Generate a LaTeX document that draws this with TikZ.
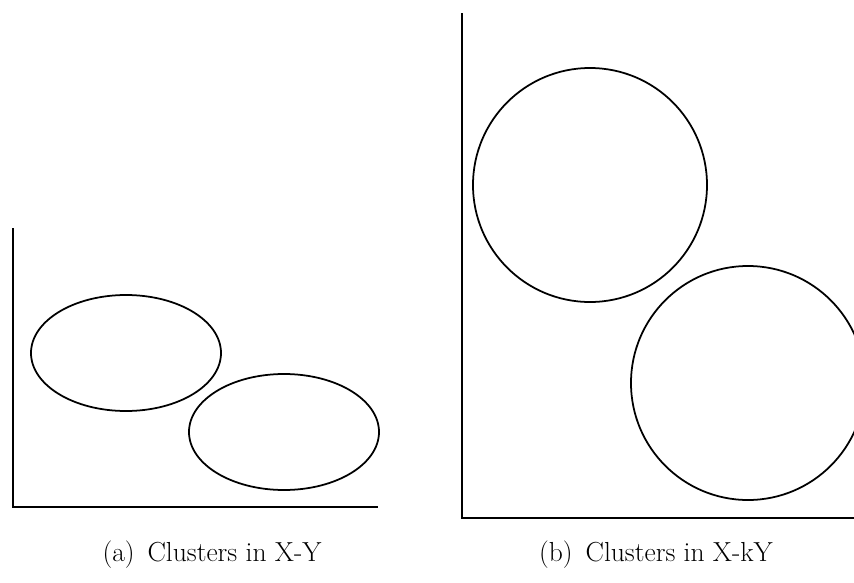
\documentclass[tikz,border=0pt]{standalone}
\usepackage{tikz}
\usetikzlibrary{positioning, shapes.geometric}

\begin{document}
\begin{tikzpicture}[
  x=0.03cm, y=-0.03cm,
  axis/.style={line width=1.7pt, black},
  blob/.style={ellipse, draw=black, line width=1.5pt, inner sep=0pt,
               minimum width=5.7cm, minimum height=3.48cm},
  ring/.style={circle, draw=black, line width=1.5pt, inner sep=0pt,
               minimum size=7.02cm},
  caption/.style={font=\fontsize{23.5}{28}\selectfont}
]
  \useasboundingbox (0,0) rectangle (854,583);
  \clip (0,0) rectangle (854,583);

  % (a) clusters in X-Y
  \coordinate (ya) at (13,228);
  \coordinate (oa) at (13,507);
  \coordinate (xa) at (378,507);
  \draw[axis] (ya) -- (oa) -- (xa);
  \node[blob] (ea) at (126,353) {};
  \node[blob] (eb) at (284,432) {};
  \node[caption] (capa) at (212,555) {(a)\, Clusters in X-Y};

  % (b) clusters in X-kY
  \coordinate (yb) at (462,13);
  \coordinate (ob) at (462,518);
  \coordinate (xb) at (860,518);
  \draw[axis] (yb) -- (ob) -- (xb);
  \node[ring] (ca) at (590,185) {};
  \node[ring] (cb) at (748,383) {};
  \node[caption] (capb) at (656,555) {(b)\, Clusters in X-kY};
\end{tikzpicture}
\end{document}
